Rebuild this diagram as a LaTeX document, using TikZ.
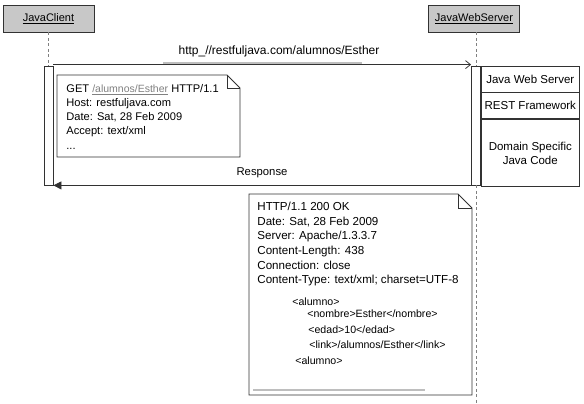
\documentclass[tikz,border=0pt]{standalone}
\usepackage{fontspec}
\setmainfont{Liberation Sans}
\usetikzlibrary{arrows.meta, positioning}
\definecolor{headgray}{RGB}{200, 200, 200}
\definecolor{linegray}{RGB}{50, 50, 50}
\definecolor{linkgray}{RGB}{190, 190, 190}

\begin{document}
\begin{tikzpicture}[x=1pt, y=-1pt, line width=0.8pt,
    actor/.style={draw=linegray, fill=headgray, minimum width=91pt, minimum height=27pt, inner sep=0pt, font=\fontsize{11}{13}\selectfont},
    lifeline/.style={draw=gray, line width=1pt, dash pattern=on 3pt off 2.5pt},
    actbar/.style={draw=linegray, fill=white, minimum width=9pt, minimum height=119pt, inner sep=0pt},
    layer/.style={draw=linegray, minimum width=98pt, inner sep=0pt, align=center, font=\fontsize{11.5}{14}\selectfont},
    note/.style={draw=linegray, fill=white, line join=miter},
    linkline/.style={draw=linkgray, line width=1.8pt},
    msg/.style={font=\fontsize{11.3}{13}\selectfont},
    xmltext/.style={anchor=west, inner sep=0pt, font=\fontsize{10.6}{11}\selectfont}
  ]
    \useasboundingbox (0,0) rectangle (584,404);

    % actores
    \node[actor] (client) at (48.5,18.5) {\underline{JavaClient}};
    \node[actor] (server) at (474,18.5) {\underline{JavaWebServer}};

    % lineas de vida y barras de activacion
    \node[actbar] (cbar) at (48.5,125.5) {};
    \node[actbar] (sbar) at (476,125.5) {};
    \draw[lifeline] (client.south -| cbar.north) -- (cbar.north);
    \draw[lifeline] (server.south -| sbar.north) -- (sbar.north);
    \draw[lifeline] (sbar.south) -- (sbar.south |- 0,404);

    % peticion
    \draw[linegray, -{Straight Barb[length=5pt, width=8pt]}] ([yshift=1pt]cbar.north east) -- ([yshift=1pt]sbar.north west);
    \node[msg, font=\fontsize{12}{13}\selectfont] (urllabel) at (279,51) {http\_//restfuljava.com/alumnos/Esther};
    \draw[linkline] (163,63) -- (362,63); % subrayado del enlace

    % capas del servidor
    \node[layer, minimum height=26pt, anchor=north west] (websrv) at (sbar.north east) {Java Web Server};
    \node[layer, minimum height=26pt, below=0pt of websrv] (restfw) {REST Framework};
    \node[layer, minimum height=67pt, below=0pt of restfw] (domain) {Domain Specific\\Java Code};

    % nota de la peticion
    \draw[note] (57,75) -- (227,75) -- (240,88) -- (240,157) -- (57,157) -- cycle;
    \draw[linegray] (227,75) -- (227,88) -- (240,88);
    \node[anchor=north west, inner sep=0pt, align=left, font=\fontsize{11.1}{14.2}\selectfont] (reqtext) at (66,83.8)
      {GET {\color{gray}\fontsize{10.5}{14.2}\selectfont\underline{/alumnos/Esther}} HTTP/1.1\\Host: restfuljava.com\\Date: Sat, 28 Feb 2009\\Accept: text/xml\\...};

    % respuesta
    \draw[linegray, -{Triangle[length=8pt, width=8pt]}] (sbar.south west) -- (cbar.south east);
    \node[msg] (resplabel) at (262,173) {Response};

    % nota de la respuesta
    \draw[note] (249,194) -- (458,194) -- (472,208) -- (472,395) -- (249,395) -- cycle;
    \draw[linegray] (458,194) -- (458,208) -- (472,208);
    \node[anchor=north west, inner sep=0pt, align=left, font=\fontsize{11.6}{14.7}\selectfont] (resptext) at (257,201.5)
      {HTTP/1.1 200 OK\\Date: Sat, 28 Feb 2009\\Server: Apache/1.3.3.7\\Content-Length: 438\\Connection: close\\Content-Type: text/xml; charset=UTF-8};
    \foreach \i/\x/\y/\t in {1/292/302/{<alumno>}, 2/307/314/{<nombre>Esther</nombre>}, 3/308/330/{<edad>10</edad>},
                           4/309/345/{<link>/alumnos/Esther</link>}, 5/295/361/{<alumno>}}
      \node[xmltext] (xml\i) at (\x,\y) {\t};
    \draw[linkline] (253,390) -- (425,390);
\end{tikzpicture}
\end{document}
